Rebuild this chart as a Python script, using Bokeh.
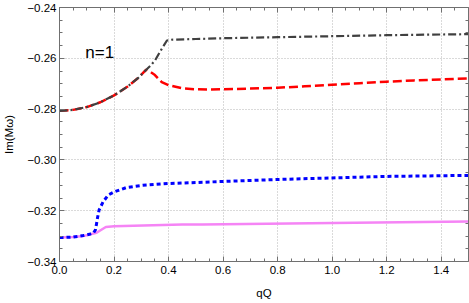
from bokeh.plotting import figure
from bokeh.models import (Range1d, LinearAxis, SingleIntervalTicker, CustomJSTickFormatter,
                          Label)
from bokeh.embed import file_html
from bokeh.resources import INLINE

# ---- data ----
qq_red = [0.0, 0.05, 0.1, 0.15, 0.2, 0.25, 0.29, 0.318, 0.335, 0.35, 0.375, 0.4, 0.45,
          0.5, 0.55, 0.6, 0.7, 0.8, 0.9, 1.0, 1.1, 1.2, 1.3, 1.4, 1.5]
im_red = [-0.2807, -0.2803, -0.2792, -0.2773, -0.2746, -0.2711, -0.2676, -0.2645, -0.2655,
          -0.2666, -0.2694, -0.2706, -0.2718, -0.2722, -0.2723, -0.2722, -0.2719, -0.2716,
          -0.2710, -0.2704, -0.2698, -0.2692, -0.2687, -0.2683, -0.2679]

qq_black = [0.0, 0.05, 0.1, 0.15, 0.2, 0.25, 0.29, 0.318, 0.335, 0.351, 0.376, 0.394, 0.41,
            0.5, 0.6, 0.8, 1.0, 1.2, 1.5]
im_black = [-0.2807, -0.2803, -0.2792, -0.2773, -0.2746, -0.2711, -0.2676, -0.2645, -0.2628,
            -0.2607, -0.2561, -0.2530, -0.2527, -0.2524, -0.2521, -0.2517, -0.2513, -0.2509,
            -0.2505]

qq_blue = [0.0, 0.05, 0.087, 0.11, 0.125, 0.132, 0.136, 0.14, 0.145, 0.16, 0.178, 0.2, 0.245,
           0.305, 0.4, 0.524, 0.8, 1.0, 1.2, 1.5]
im_blue = [-0.3306, -0.3304, -0.3298, -0.3293, -0.3287, -0.3275, -0.3250, -0.3225, -0.3198,
           -0.3165, -0.3139, -0.3126, -0.3109, -0.3100, -0.3093, -0.3088, -0.3077, -0.3071,
           -0.3065, -0.3061]

qq_pink = [0.0, 0.05, 0.087, 0.136, 0.155, 0.17, 0.2, 0.45, 0.524, 1.0, 1.5]
im_pink = [-0.3306, -0.3304, -0.3300, -0.3287, -0.3274, -0.3264, -0.3261, -0.3254, -0.3254,
           -0.3248, -0.3243]

x_label = "qQ"
y_label = "Im(M\u03c9)"
note = "n=1"

FONT = "Liberation Sans"
AX_COL = "#707070"

p = figure(width=469, height=303, output_backend="svg", toolbar_location=None,
           x_range=Range1d(0, 1.5), y_range=Range1d(-0.34, -0.24),
           min_border_left=56, min_border_right=1, min_border_top=7, min_border_bottom=42,
           x_axis_label=x_label, y_axis_label=y_label)
p.outline_line_color = None
p.background_fill_color = "white"
p.border_fill_color = "white"

xt = SingleIntervalTicker(interval=0.2, num_minor_ticks=4)
yt = SingleIntervalTicker(interval=0.02, num_minor_ticks=4)
xfmt = CustomJSTickFormatter(code="return tick.toFixed(1).replace('-', '\u2212');")
yfmt = CustomJSTickFormatter(code="return tick.toFixed(2).replace('-', '\u2212');")
blank = CustomJSTickFormatter(code="return '';")

for ax, t, f in ((p.xaxis[0], xt, xfmt), (p.yaxis[0], yt, yfmt)):
    ax.ticker = t
    ax.formatter = f
    ax.major_tick_in = 5
    ax.major_tick_out = 0
    ax.minor_tick_in = 3
    ax.minor_tick_out = 0
    ax.axis_line_color = AX_COL
    ax.major_tick_line_color = AX_COL
    ax.minor_tick_line_color = AX_COL
    ax.major_label_text_font = FONT
    ax.major_label_text_font_size = "11.5px"
    ax.major_label_text_color = "black"
    ax.axis_label_text_font = FONT
    ax.axis_label_text_font_size = "11.5px"
    ax.axis_label_text_font_style = "normal"
    ax.axis_label_text_color = "black"

p.xaxis.major_label_standoff = 4
p.xaxis.axis_label_standoff = 10
p.yaxis.major_label_standoff = 3
p.yaxis.axis_label_standoff = 9

for loc, t in (("above", xt), ("right", yt)):
    a = LinearAxis(ticker=t, formatter=blank, major_tick_in=5, major_tick_out=0,
                   minor_tick_in=3, minor_tick_out=0, major_label_text_font_size="1px",
                   major_label_standoff=0, axis_line_color=AX_COL,
                   major_tick_line_color=AX_COL, minor_tick_line_color=AX_COL)
    p.add_layout(a, loc)

p.xgrid.ticker = xt
p.ygrid.ticker = yt
p.grid.grid_line_color = "#b4b4b4"
p.grid.grid_line_dash = "1 2"
p.grid.grid_line_width = 1

p.line(qq_pink, im_pink, line_color="#f584f5", line_width=2.5)
p.line(qq_blue, im_blue, line_color="#0000ff", line_width=3, line_dash="4 3")
p.line(qq_red, im_red, line_color="#ff0000", line_width=2.5, line_dash="9 4")
p.line(qq_black, im_black, line_color="#404040", line_width=2.2, line_dash="8 3 2 3")

p.add_layout(Label(x=0.0945, y=-0.2577, text=note, text_font=FONT,
                   text_font_size="17px", text_color="black",
                   text_baseline="alphabetic", text_align="left"))

open("out.html", "w").write(file_html(p, INLINE))
